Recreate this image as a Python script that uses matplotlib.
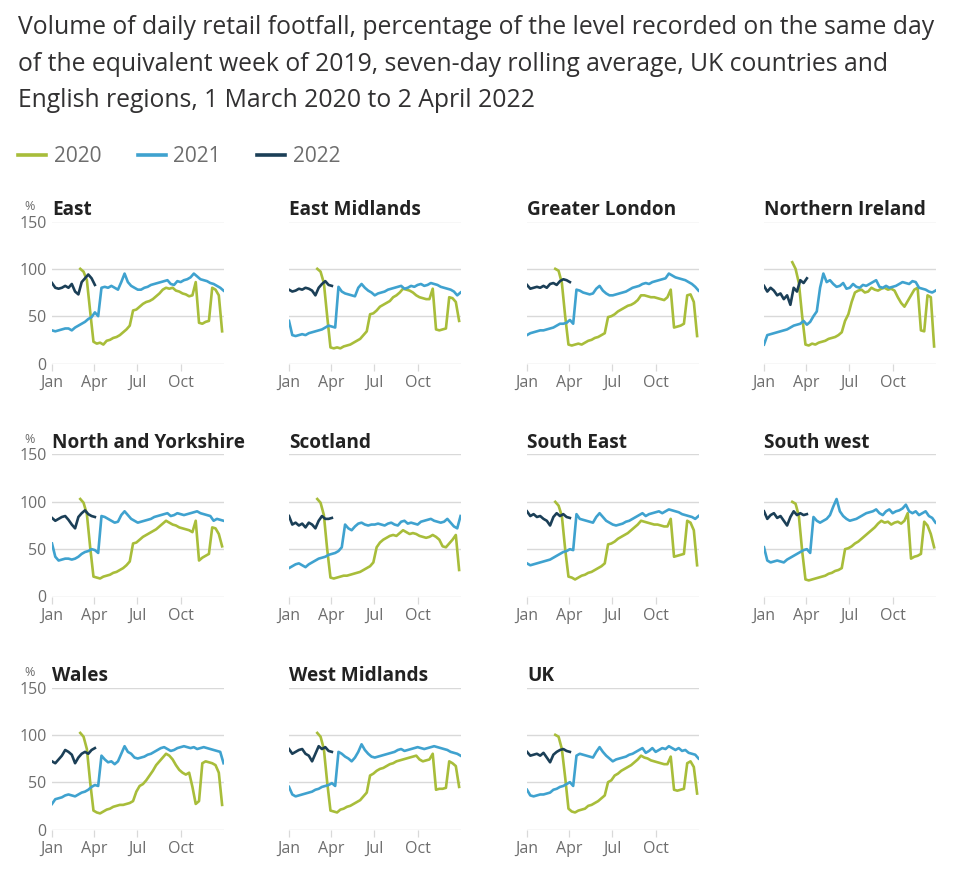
import numpy as np
import matplotlib.pyplot as plt
from matplotlib.lines import Line2D

plt.rcParams["font.family"] = ["Open Sans", "DejaVu Sans"]

# x positions (day of year), weekly readings
days_2020 = np.arange(60, 365, 7)  # 1 March 2020 onwards
days_2021 = np.arange(0, 365, 7)
days_2022 = np.arange(0, 92, 7)  # to 2 April 2022

month_ticks = [0, 90, 181, 273]
month_labels = ["Jan", "Apr", "Jul", "Oct"]
years = ["2020", "2021", "2022"]

east_2020 = [100, 97, 88, 55, 23, 21, 22, 20, 24, 25, 27, 28, 30, 33, 36, 40, 56, 57, 60, 63,
             65, 66, 68, 71, 74, 78, 80, 79, 80, 77, 76, 74, 73, 71, 72, 86, 43, 42, 44, 45,
             80, 78, 72, 34]
east_2021 = [35, 34, 35, 36, 37, 37, 35, 38, 40, 42, 44, 47, 49, 54, 50, 80, 81, 80, 82, 80,
             78, 86, 95, 86, 82, 80, 78, 78, 80, 81, 83, 84, 85, 86, 87, 88, 84, 83, 87, 86,
             88, 89, 91, 95, 92, 89, 88, 87, 85, 84, 82, 80, 77]
east_2022 = [85, 80, 79, 80, 82, 80, 84, 76, 73, 86, 90, 94, 90, 83]

east_mid_2020 = [100, 97, 85, 50, 17, 16, 17, 16, 18, 19, 20, 22, 24, 26, 30, 34, 52, 53, 56, 60,
                 62, 64, 66, 70, 72, 75, 79, 78, 77, 75, 72, 70, 69, 68, 68, 79, 36, 35, 36, 37,
                 70, 69, 65, 45]
east_mid_2021 = [45, 30, 29, 30, 31, 30, 32, 33, 34, 35, 36, 38, 40, 39, 38, 81, 76, 74, 73, 72,
                 71, 80, 84, 80, 77, 75, 72, 74, 75, 76, 78, 79, 80, 81, 82, 79, 80, 82, 81, 83,
                 84, 82, 83, 85, 84, 83, 81, 80, 79, 78, 76, 72, 75]
east_mid_2022 = [78, 76, 77, 79, 78, 80, 79, 77, 72, 80, 84, 87, 83, 82]

london_2020 = [100, 98, 85, 50, 20, 19, 20, 21, 20, 22, 24, 25, 27, 28, 30, 32, 49, 50, 52, 55,
               57, 59, 61, 62, 64, 67, 72, 72, 71, 70, 70, 69, 68, 67, 70, 78, 38, 39, 40, 42,
               72, 73, 65, 29]
london_2021 = [30, 32, 33, 34, 35, 35, 36, 37, 38, 40, 42, 42, 43, 46, 42, 78, 77, 75, 74, 73,
               74, 79, 82, 77, 74, 72, 72, 73, 74, 75, 76, 78, 80, 81, 82, 84, 85, 84, 86, 87,
               88, 89, 90, 95, 93, 91, 90, 89, 88, 86, 84, 81, 77]
london_2022 = [83, 79, 80, 81, 80, 82, 80, 84, 85, 83, 87, 89, 88, 86]

ni_2020 = [107, 100, 85, 50, 20, 19, 21, 20, 22, 23, 24, 26, 27, 28, 30, 33, 45, 52, 65, 75,
           77, 78, 75, 76, 80, 78, 77, 79, 80, 78, 79, 77, 70, 64, 60, 66, 72, 78, 80, 35,
           34, 72, 70, 18]
ni_2021 = [20, 30, 31, 32, 33, 34, 35, 36, 38, 40, 41, 42, 45, 41, 44, 50, 55, 80, 95, 86,
           88, 84, 81, 82, 85, 79, 80, 84, 81, 80, 83, 82, 84, 86, 88, 81, 80, 82, 80, 81,
           82, 84, 86, 85, 84, 87, 86, 80, 79, 78, 76, 75, 77]
ni_2022 = [82, 76, 80, 77, 72, 74, 68, 72, 62, 80, 76, 88, 85, 90]

ny_2020 = [103, 99, 87, 52, 21, 20, 19, 21, 22, 23, 25, 26, 28, 30, 33, 37, 56, 57, 60, 63,
           65, 67, 69, 71, 74, 77, 80, 78, 76, 75, 73, 72, 71, 70, 68, 80, 38, 41, 43, 45,
           73, 72, 66, 53]
ny_2021 = [56, 42, 38, 39, 40, 40, 39, 40, 42, 45, 47, 48, 50, 49, 46, 85, 84, 82, 80, 78,
           79, 86, 90, 86, 82, 80, 78, 79, 80, 81, 82, 84, 85, 86, 87, 88, 85, 86, 88, 87,
           86, 87, 88, 89, 90, 88, 87, 86, 85, 80, 82, 81, 80]
ny_2022 = [83, 80, 82, 84, 85, 81, 76, 72, 84, 88, 91, 87, 85, 84]

scot_2020 = [103, 99, 86, 50, 20, 19, 20, 21, 22, 22, 23, 24, 25, 26, 28, 30, 32, 36, 52, 57,
             60, 62, 64, 65, 64, 67, 70, 68, 66, 67, 66, 64, 63, 62, 63, 65, 63, 60, 53, 52,
             56, 60, 65, 28]
scot_2021 = [30, 32, 34, 35, 33, 31, 34, 36, 38, 40, 41, 42, 44, 45, 46, 48, 52, 76, 72, 70,
             74, 77, 78, 76, 75, 76, 76, 77, 76, 75, 77, 78, 76, 75, 79, 80, 77, 78, 77, 76,
             79, 80, 81, 82, 80, 79, 78, 79, 82, 78, 74, 72, 85]
scot_2022 = [85, 76, 78, 75, 77, 73, 78, 76, 72, 80, 85, 82, 82, 83]

se_2020 = [100, 96, 85, 50, 21, 20, 18, 20, 22, 23, 25, 26, 28, 30, 32, 35, 55, 56, 58, 61,
           63, 65, 67, 70, 73, 76, 80, 79, 78, 77, 76, 76, 75, 74, 74, 82, 42, 43, 44, 45,
           80, 78, 70, 33]
se_2021 = [35, 33, 34, 35, 36, 37, 38, 39, 41, 43, 45, 47, 48, 50, 49, 87, 82, 81, 80, 79,
           78, 84, 88, 84, 80, 78, 76, 75, 76, 77, 79, 80, 82, 84, 86, 88, 85, 87, 88, 89,
           90, 88, 90, 92, 91, 90, 89, 87, 86, 85, 84, 82, 85]
se_2022 = [90, 85, 87, 84, 85, 82, 80, 75, 84, 88, 85, 87, 84, 83]

sw_2020 = [100, 98, 85, 48, 18, 17, 18, 19, 20, 21, 22, 24, 25, 27, 28, 30, 50, 51, 53, 56,
           58, 61, 64, 67, 70, 73, 77, 80, 78, 79, 76, 78, 79, 77, 80, 88, 40, 42, 43, 45,
           79, 75, 66, 52]
sw_2021 = [52, 38, 36, 37, 38, 37, 36, 39, 41, 43, 45, 47, 49, 50, 46, 84, 80, 78, 80, 82,
           86, 95, 103, 90, 85, 82, 80, 81, 82, 84, 86, 88, 89, 90, 92, 88, 86, 90, 92, 88,
           90, 91, 93, 97, 90, 88, 90, 86, 88, 90, 85, 83, 78]
sw_2022 = [90, 82, 86, 88, 83, 85, 80, 75, 84, 90, 86, 88, 86, 87]

wales_2020 = [102, 98, 85, 50, 20, 18, 17, 19, 21, 22, 24, 25, 26, 26, 27, 28, 30, 40, 46, 48,
              52, 57, 62, 68, 72, 76, 80, 78, 74, 68, 63, 60, 58, 60, 45, 27, 30, 70, 72, 71,
              70, 68, 60, 26]
wales_2021 = [27, 32, 33, 34, 36, 37, 36, 35, 37, 39, 40, 42, 45, 47, 46, 78, 74, 71, 72, 69,
              72, 80, 88, 82, 80, 76, 75, 76, 77, 79, 80, 82, 84, 86, 87, 85, 83, 84, 86, 87,
              88, 87, 86, 87, 85, 86, 87, 86, 85, 84, 83, 82, 70]
wales_2022 = [72, 70, 74, 78, 84, 82, 79, 70, 76, 80, 82, 80, 84, 86]

wm_2020 = [102, 98, 85, 50, 20, 19, 18, 21, 22, 24, 25, 27, 29, 31, 35, 39, 57, 59, 62, 64,
           65, 67, 69, 70, 72, 73, 74, 75, 76, 77, 78, 74, 72, 73, 74, 80, 42, 43, 43, 44,
           72, 70, 67, 45]
wm_2021 = [45, 37, 35, 36, 37, 38, 39, 40, 42, 43, 45, 46, 47, 49, 46, 82, 80, 77, 75, 72,
           76, 82, 90, 84, 80, 77, 76, 77, 78, 79, 80, 81, 82, 84, 85, 83, 84, 85, 86, 87,
           86, 85, 86, 87, 88, 87, 86, 85, 84, 82, 81, 80, 78]
wm_2022 = [85, 80, 82, 84, 85, 80, 78, 72, 80, 88, 85, 87, 83, 82]

uk_2020 = [100, 98, 85, 55, 22, 19, 18, 20, 21, 22, 25, 26, 28, 30, 33, 36, 50, 52, 57, 59,
           62, 64, 66, 68, 71, 74, 78, 76, 75, 73, 72, 71, 70, 69, 69, 77, 42, 41, 42, 43,
           70, 72, 66, 38]
uk_2021 = [42, 36, 35, 36, 37, 37, 38, 39, 42, 43, 45, 46, 48, 50, 46, 78, 80, 79, 78, 77,
           76, 82, 87, 82, 78, 75, 72, 74, 75, 76, 77, 79, 80, 82, 84, 86, 81, 83, 86, 82,
           84, 86, 85, 88, 86, 84, 86, 83, 84, 81, 80, 79, 75]
uk_2022 = [82, 78, 79, 80, 78, 81, 76, 71, 79, 82, 84, 85, 83, 82]

regions = [
    ("East", east_2020, east_2021, east_2022),
    ("East Midlands", east_mid_2020, east_mid_2021, east_mid_2022),
    ("Greater London", london_2020, london_2021, london_2022),
    ("Northern Ireland", ni_2020, ni_2021, ni_2022),
    ("North and Yorkshire", ny_2020, ny_2021, ny_2022),
    ("Scotland", scot_2020, scot_2021, scot_2022),
    ("South East", se_2020, se_2021, se_2022),
    ("South west", sw_2020, sw_2021, sw_2022),
    ("Wales", wales_2020, wales_2021, wales_2022),
    ("West Midlands", wm_2020, wm_2021, wm_2022),
    ("UK", uk_2020, uk_2021, uk_2022),
]

title_lines = [
    "Volume of daily retail footfall, percentage of the level recorded on the same day",
    "of the equivalent week of 2019, seven-day rolling average, UK countries and",
    "English regions, 1 March 2020 to 2 April 2022",
]

colors = ["#a8bd3a", "#3fa2cf", "#1b3f57"]
grey_text = "#6d6d6d"
grid_col = "#d9d9d9"

W, H = 960, 877
fig = plt.figure(figsize=(W / 100, H / 100), dpi=100)

for line, y in zip(title_lines, [34, 71, 107]):
    fig.text(18 / W, 1 - y / H, line, fontsize=17.8, color="#323132", va="baseline")

handles = [Line2D([], [], color=c, lw=2.6) for c in colors]
fig.legend(handles, years, loc="center left", bbox_to_anchor=(10 / W, 1 - 157 / H),
           ncol=3, frameon=False, fontsize=15, labelcolor=grey_text,
           handlelength=1.35, handletextpad=0.35, columnspacing=1.75, borderaxespad=0)

col_left = [52, 289, 527, 764]
row_top = [221.5, 454.5, 687.5]
ax_w, ax_h = 172, 142

for i, (name, v20, v21, v22) in enumerate(regions):
    r, c = divmod(i, 4)
    ax = fig.add_axes([col_left[c] / W, 1 - (row_top[r] + ax_h) / H, ax_w / W, ax_h / H])
    ax.plot(days_2020, v20, color=colors[0], lw=1.9, solid_joinstyle="round")
    ax.plot(days_2021, v21, color=colors[1], lw=1.9, solid_joinstyle="round")
    ax.plot(days_2022, v22, color=colors[2], lw=1.9, solid_joinstyle="round")

    ax.set_xlim(0, 365)
    ax.set_ylim(0, 150)
    ax.set_yticks([0, 50, 100, 150])
    ax.set_xticks(month_ticks)
    ax.set_xticklabels(month_labels)
    ax.grid(axis="y", color=grid_col, lw=1.0)
    ax.set_axisbelow(True)
    [spine.set_visible(False) for spine in ax.spines.values()]
    ax.tick_params(axis="x", length=5, width=0.9, color=grid_col, pad=3,
                   labelsize=11.5, labelcolor=grey_text)
    ax.tick_params(axis="y", length=0, pad=4, labelsize=11.5, labelcolor=grey_text)
    if c != 0:
        ax.tick_params(axis="y", labelleft=False)
    else:
        ax.text(-0.131, 1.105, "%", transform=ax.transAxes, fontsize=9,
                color=grey_text, ha="center", va="center")
    ax.text(0, 1.08, name, transform=ax.transAxes, fontsize=13.7, fontweight="bold",
            color="#222222", ha="left", va="center")

fig.savefig("out.png", dpi=100)
